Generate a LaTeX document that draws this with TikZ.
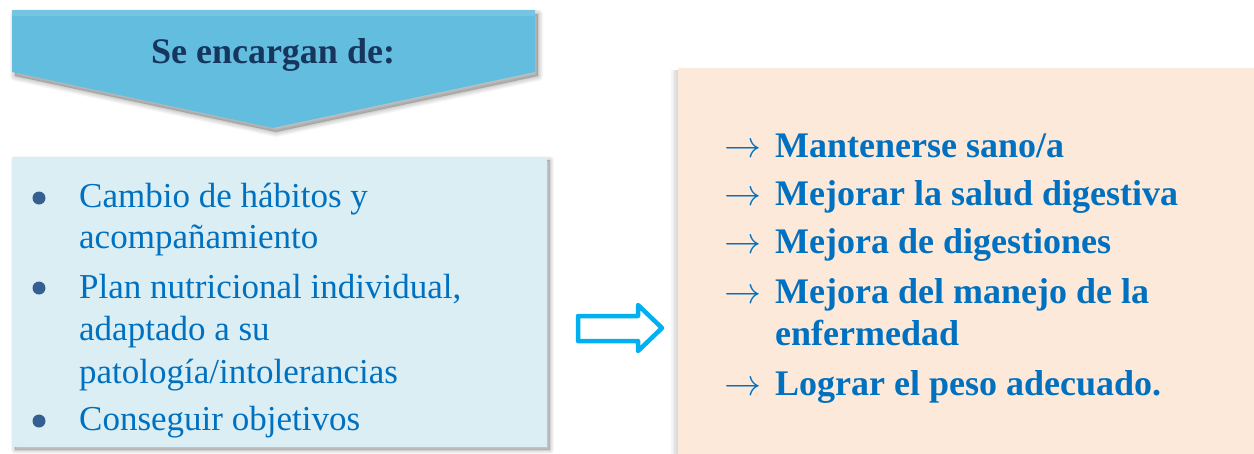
\RequirePackage{fix-cm}
\documentclass[tikz,border=0pt]{standalone}
\usepackage{fontspec}
\setmainfont{Liberation Serif}
\definecolor{chev}{RGB}{98,189,223}
\definecolor{lbox}{RGB}{218,238,243}
\definecolor{rbox}{RGB}{253,233,217}
\definecolor{txtblue}{RGB}{0,112,192}
\definecolor{navy}{RGB}{23,54,93}
\definecolor{bul}{RGB}{54,95,145}
\definecolor{cyanarrow}{RGB}{0,176,240}
\tikzset{
  lefttxt/.style={anchor=base west, inner sep=0pt, text=txtblue, font=\fontsize{35}{40}\selectfont},
  righttxt/.style={anchor=base west, inner sep=0pt, text=txtblue, font=\fontsize{36}{40}\selectfont\bfseries},
  arrtxt/.style={anchor=base west, inner sep=0pt, text=txtblue, font=\fontsize{37}{40}\selectfont},
  shadowlayer/.style={black, opacity=0.035, line join=round},
}
\begin{document}
\begin{tikzpicture}[x=1pt,y=-1pt]
\useasboundingbox (0,0) rectangle (1254,453);
\fill[white] (0,0) rectangle (1254,453);
% right box with soft shadow on the left
\begin{scope}
\clip (0,0) rectangle (1254,453);
\foreach \w in {12,9,6,3}{
  \fill[shadowlayer] (677-\w/2,70) rectangle (1260,460);
}
\fill[rbox] (678,68) rectangle (1260,460);
\end{scope}
% chevron with soft shadow
\foreach \w in {10,8,6,4,2,0.1}{
  \filldraw[shadowlayer, line width=\w pt] (15,14) -- (538,14) -- (538,76) -- (276,132) -- (15,76) -- cycle;
}
\fill[chev] (12,10) -- (535,10) -- (535,72) -- (273,128) -- (12,72) -- cycle;
\fill[white,opacity=0.12] (12,10) rectangle (535,16);
\node[anchor=base, inner sep=0pt, text=navy, font=\fontsize{36}{40}\selectfont\bfseries] (head) at (273,63) {Se encargan de:};
% left box with soft shadow
\foreach \w in {8,6,4,2,0.1}{
  \filldraw[shadowlayer, line width=\w pt] (15,160) rectangle (550,450);
}
\fill[lbox] (12,157) rectangle (547,447);
\foreach \y/\n in {198/b1,288/b2,421/b3}{
  \coordinate (\n) at (39,\y);
  \fill[bul] (\n) circle[radius=6.5pt];
}
\node[lefttxt] (l1) at (79,207) {Cambio de hábitos y};
\node[lefttxt] (l2) at (79,248) {acompañamiento};
\node[lefttxt] (l3) at (79,298) {Plan nutricional individual,};
\node[lefttxt] (l4) at (79,340) {adaptado a su};
\node[lefttxt] (l5) at (79,383) {patología/intolerancias};
\node[lefttxt] (l6) at (79,430) {Conseguir objetivos};
% block arrow
\draw[cyanarrow, line width=4.5pt, line join=round] (578,316) -- (638,316) -- (638,305) -- (662,328) -- (638,351) -- (638,341) -- (578,341) -- cycle;
% right list
\foreach \y/\n in {157/a1,205/a2,253/a3,303/a4,395/a5}{
  \node[arrtxt] (\n) at (724,\y) {$\rightarrow$};
}
\node[righttxt] (r1) at (775,157) {Mantenerse sano/a};
\node[righttxt] (r2) at (775,205) {Mejorar la salud digestiva};
\node[righttxt] (r3) at (775,253) {Mejora de digestiones};
\node[righttxt] (r4) at (775,303) {Mejora del manejo de la};
\node[righttxt] (r5) at (775,345) {enfermedad};
\node[righttxt] (r6) at (775,395) {Lograr el peso adecuado.};
\end{tikzpicture}
\end{document}
